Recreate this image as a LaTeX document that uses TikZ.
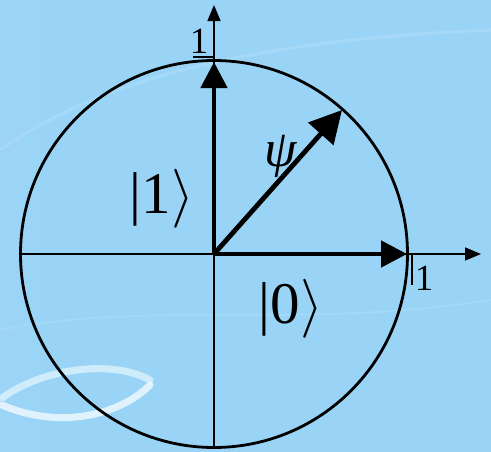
\RequirePackage{fix-cm}
\documentclass[tikz,border=0pt]{standalone}
\usepackage{fontspec}
\setmainfont{Liberation Serif}
\usetikzlibrary{arrows.meta}
\definecolor{bgblue}{RGB}{153,212,247}
\definecolor{bglight}{RGB}{185,218,248}
\pgfdeclarehorizontalshading{bgshade}{100bp}{color(0bp)=(bglight); color(12bp)=(bgblue!70!bglight); color(30bp)=(bgblue); color(100bp)=(bgblue)}
\tikzset{
  axis/.style={line width=1.6pt, -{Triangle[length=16pt,width=13pt]}},
  vec/.style={line width=4.8pt, -{Triangle[length=26pt,width=26pt]}},
  bigvec/.style={line width=4.8pt, -{Triangle[length=32pt,width=33pt]}},
  ket/.style={font=\fontsize{59}{60}\selectfont, inner sep=0pt, anchor=base},
  unit/.style={font=\fontsize{37}{38}\selectfont, inner sep=0pt, anchor=base},
  swirl/.style={white, opacity=0.7, line width=7pt, line cap=round}
}
\begin{document}
\begin{tikzpicture}[x=1pt,y=-1pt]
\useasboundingbox (0,0) rectangle (491,451);
\shade[shading=bgshade] (0,0) rectangle (491,451);
% faint background swirls
\draw[white, opacity=0.12, line width=3pt] (0,150) .. controls (100,80) and (250,40) .. (491,30);
\draw[white, opacity=0.1, line width=2pt] (0,330) .. controls (150,300) and (300,330) .. (491,300);
\draw[swirl, cyan!10!white] (2,398) .. controls (40,370) and (110,358) .. (150,380);
\draw[swirl] (2,405) .. controls (60,430) and (120,415) .. (150,385);
% points
\coordinate (O) at (214,254);
\coordinate (xend) at (481,254);
\coordinate (xstart) at (19,254);
\coordinate (ytop) at (214,5);
\coordinate (ybot) at (214,446);
\coordinate (e0) at (407,254);
\coordinate (e1) at (214,62);
\coordinate (psi) at (342,110);
% circle
\draw[line width=2.8pt] (O) circle[radius=193.5pt];
% axes
\draw[line width=1.6pt] (xstart) -- (O);
\draw[line width=1.6pt] (ybot) -- (O);
\draw[axis] (O) -- (xend);
\draw[axis] (O) -- (ytop);
% ticks
\coordinate (tx1) at (412,254);
\coordinate (tx2) at (412,285);
\coordinate (ty1) at (214,57);
\coordinate (ty2) at (193,57);
\draw[line width=1.2pt] (tx1) -- (tx2);
\draw[line width=1.2pt] (ty1) -- (ty2);
% vectors
\draw[vec] (O) -- (e0);
\draw[vec] (O) -- (e1);
\draw[bigvec] (O) -- (psi);
% labels
\node[ket] (k1) at (162,213) {|1$\rangle$};
\node[ket] (k0) at (291,323) {|0$\rangle$};
\node[font=\fontsize{52}{53}\selectfont\itshape, inner sep=0pt, anchor=base] (lpsi) at (281,166) {ψ};
\node[unit] (u1) at (424,290) {1};
\node[unit] (u2) at (199,53) {1};
\end{tikzpicture}
\end{document}
